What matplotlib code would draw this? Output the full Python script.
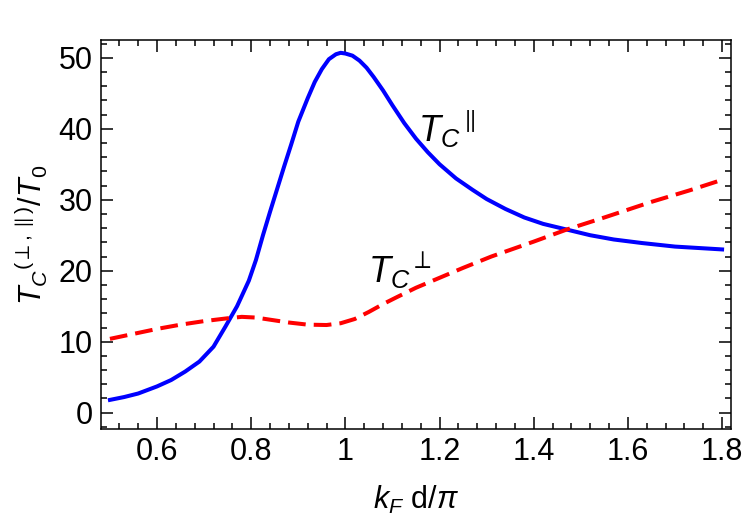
import matplotlib
matplotlib.use('Agg')
import matplotlib.pyplot as plt
from matplotlib.ticker import MultipleLocator

plt.rcParams['font.family'] = ['Liberation Sans', 'DejaVu Sans']
plt.rcParams['mathtext.fontset'] = 'custom'
plt.rcParams['mathtext.rm'] = 'Liberation Sans'
plt.rcParams['mathtext.it'] = 'Liberation Sans:italic'
plt.rcParams['mathtext.bf'] = 'Liberation Sans:bold'

# T_C parallel (blue, solid)
x_par = [0.50, 0.53, 0.56, 0.60, 0.63, 0.66, 0.69, 0.72, 0.745, 0.77, 0.795,
         0.81, 0.825, 0.84, 0.855, 0.87, 0.885, 0.90, 0.92, 0.935, 0.95, 0.965,
         0.98, 0.99, 1.00, 1.015, 1.03, 1.045, 1.06, 1.08, 1.10, 1.125, 1.15,
         1.175, 1.20, 1.235, 1.27, 1.30, 1.34, 1.38, 1.42, 1.47, 1.52, 1.57,
         1.63, 1.70, 1.75, 1.80]
y_par = [1.8, 2.2, 2.7, 3.7, 4.6, 5.8, 7.2, 9.3, 12.1, 15.0, 18.6,
         21.5, 25.0, 28.3, 31.5, 34.7, 37.8, 41.0, 44.3, 46.6, 48.4, 49.8,
         50.5, 50.7, 50.6, 50.3, 49.6, 48.6, 47.3, 45.4, 43.3, 40.8, 38.6,
         36.7, 35.0, 33.0, 31.4, 30.1, 28.7, 27.5, 26.6, 25.8, 25.0, 24.4,
         23.9, 23.4, 23.2, 23.0]

# T_C perpendicular (red, dashed)
x_perp = [0.50, 0.55, 0.60, 0.65, 0.70, 0.75, 0.78, 0.81, 0.84, 0.88, 0.92,
          0.96, 0.99, 1.02, 1.05, 1.08, 1.11, 1.15, 1.20, 1.25, 1.31, 1.40,
          1.47, 1.55, 1.65, 1.73, 1.80]
y_perp = [10.4, 11.1, 11.8, 12.4, 12.9, 13.3, 13.5, 13.4, 13.1, 12.7, 12.4,
          12.35, 12.6, 13.2, 14.2, 15.3, 16.3, 17.6, 19.0, 20.4, 22.0, 24.1,
          25.8, 27.5, 29.7, 31.3, 32.8]

xticks = [0.6, 0.8, 1.0, 1.2, 1.4, 1.6, 1.8]
xticklabels = ['0.6', '0.8', '1', '1.2', '1.4', '1.6', '1.8']
yticks = [0, 10, 20, 30, 40, 50]

fig = plt.figure(figsize=(7.47, 5.2), dpi=100)
ax = fig.add_axes([0.1352, 0.175, 0.8434, 0.748])

ax.plot(x_par, y_par, color='#0000ff', lw=2.9, solid_joinstyle='round')
ax.plot(x_perp, y_perp, color='#ff0000', lw=2.9, dashes=(4.4, 2.0),
        dash_capstyle='butt', dash_joinstyle='round')

ax.text(1.154, 38.2, r'$T_C{}^{\parallel}$', fontsize=26, ha='left', va='baseline')
ax.text(1.048, 18.3, r'$T_C{}^{\perp}$', fontsize=26, ha='left', va='baseline')

ax.set_xlim(0.481, 1.819)
ax.set_ylim(-2.3, 52.5)
ax.set_xticks(xticks)
ax.set_xticklabels(xticklabels)
ax.set_yticks(yticks)
ax.xaxis.set_minor_locator(MultipleLocator(0.04))
ax.yaxis.set_minor_locator(MultipleLocator(2))

ax.tick_params(which='both', direction='in', top=True, right=True, width=1.1,
               labelsize=22)
ax.tick_params(which='major', length=8.6, pad=6)
ax.tick_params(which='minor', length=4)
for s in ax.spines.values():
    s.set_linewidth(1.1)

ax.set_xlabel(r'$k_F$ d/$\pi$', fontsize=22, labelpad=12)
ax.set_ylabel(r'$T_C{}^{(\perp,\parallel)}/T_0$', fontsize=22, labelpad=6)

fig.savefig('out.png', dpi=100)
